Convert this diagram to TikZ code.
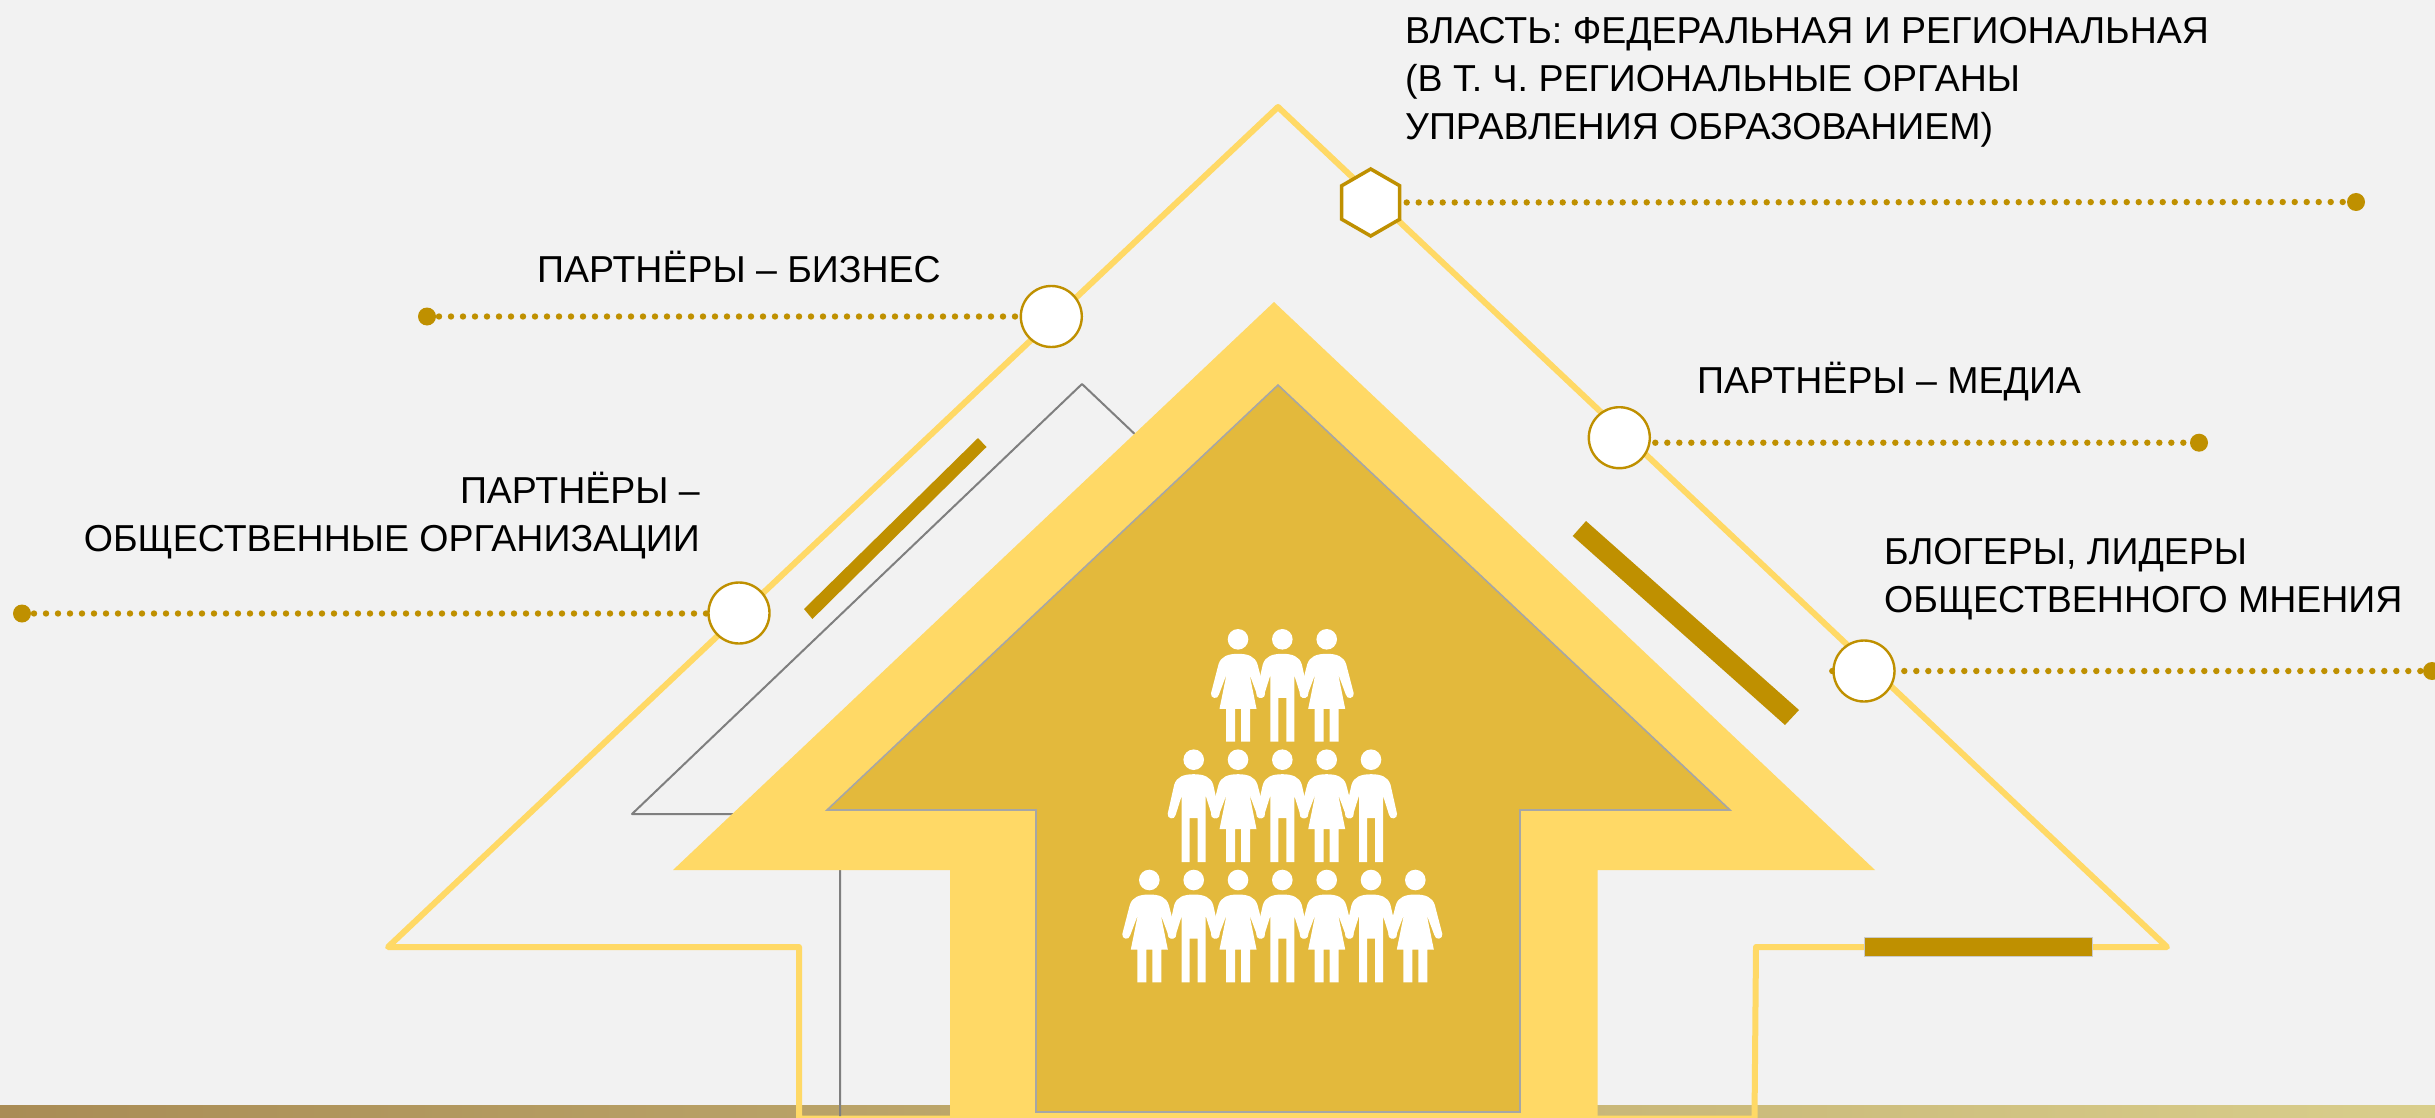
\documentclass[tikz,border=0pt]{standalone}
\usepackage{fontspec}
\setmainfont{Liberation Sans}
\usetikzlibrary{shapes.geometric}
\definecolor{pagebg}{HTML}{F2F2F2}
\definecolor{roof}{HTML}{FFD966}
\definecolor{gold}{HTML}{BF9000}
\definecolor{inner}{HTML}{E3B93C}
\definecolor{edgegray}{HTML}{A6A6A6}
\definecolor{thingray}{HTML}{7F7F7F}
\definecolor{barL}{HTML}{A98C55}
\definecolor{barR}{HTML}{D9CE8B}
\pgfdeclarelayer{base}
\pgfdeclarelayer{conn}
\pgfsetlayers{base,conn,main}
\tikzset{
  x=1pt,y=-1pt,
  hub/.style={circle,draw=gold,fill=white,line width=2.4pt,minimum size=61pt,inner sep=0pt},
  hexhub/.style={regular polygon,regular polygon sides=6,shape border rotate=30,draw=gold,fill=white,line width=3.5pt,minimum size=67pt,inner sep=0pt},
  enddot/.style={circle,fill=gold,minimum size=18pt,inner sep=0pt},
  dotline/.style={draw=gold,line width=6.4pt,line cap=round,dash pattern=on 0pt off 12pt},
  lbl/.style={font=\fontsize{37.5}{48}\selectfont,text=black,inner sep=0pt},
  woman/.pic={
    \fill[white] (0,0) circle[radius=10.3];
    \fill[white] (0,14.5) .. controls (10,14.5) and (17,17) .. (19.5,25) -- (27,54)
      .. controls (28,59) and (20,61) .. (19,55) -- (11.5,35) -- (18.5,69.5) -- (12,69.5) -- (12,102.3)
      -- (3,102.3) -- (3,69.5) -- (-3,69.5) -- (-3,102.3) -- (-12,102.3) -- (-12,69.5) -- (-18.5,69.5)
      -- (-11.5,35) -- (-19,55) .. controls (-20,61) and (-28,59) .. (-27,54) -- (-19.5,25)
      .. controls (-17,17) and (-10,14.5) .. (0,14.5) -- cycle;
  },
  man/.pic={
    \fill[white] (0,0) circle[radius=10.3];
    \fill[white] (0,14.5) .. controls (10,14.5) and (17,17) .. (19.5,25) -- (26,54)
      .. controls (27,59) and (19,61) .. (18,55) -- (12,36) -- (12,102.3)
      -- (4,102.3) -- (4,58.5) -- (-4,58.5) -- (-4,102.3) -- (-12,102.3) -- (-12,36)
      -- (-18,55) .. controls (-19,61) and (-27,59) .. (-26,54) -- (-19.5,25)
      .. controls (-17,17) and (-10,14.5) .. (0,14.5) -- cycle;
  }
}
\begin{document}
\begin{tikzpicture}
\useasboundingbox (0,0) rectangle (2435,1118);

\begin{pgfonlayer}{base}
  \fill[pagebg] (0,0) rectangle (2435,1118);
  \shade[left color=barL,right color=barR] (0,1105) rectangle (2435,1118);
  \draw[roof,line width=6pt,line join=round]
    (388,947) -- (1278,107) -- (2167,947) -- (1756,947) -- (1754.5,1118.5) -- (799,1118.5) -- (799,947) -- cycle;
  \draw[thingray,line width=2pt,line join=round]
    (1160,458) -- (1082,384) -- (632,814) -- (840,814) -- (840,1116);
  \fill[roof] (1274,302) -- (1875,870) -- (1597.5,870) -- (1597.5,1118) -- (950,1118) -- (950,870) -- (673,870) -- cycle;
  \filldraw[fill=inner,draw=edgegray,line width=1.6pt,line join=miter]
    (1278,385) -- (1730,810) -- (1520,810) -- (1520,1112) -- (1036,1112) -- (1036,810) -- (827,810) -- cycle;
  \fill[gold] (978,438) -- (986.5,447) -- (812.4,619) -- (804,609) -- cycle;
  \fill[gold] (1586,521) -- (1799,710) -- (1785,725) -- (1572.7,536) -- cycle;
  \filldraw[fill=gold,draw=edgegray!60,line width=0.8pt] (1864,937) rectangle (2092,956);
\end{pgfonlayer}

% people
\foreach \px/\kind in {1238/woman,1282.3/man,1326.7/woman}
  \pic at (\px,639.3) {\kind};
\foreach \px/\kind in {1193.7/man,1238/woman,1282.3/man,1326.7/woman,1371/man}
  \pic at (\px,759.7) {\kind};
\foreach \px/\kind in {1149.3/woman,1193.7/man,1238/woman,1282.3/man,1326.7/woman,1371/man,1415.3/woman}
  \pic at (\px,880) {\kind};

% hubs and end dots
\node[hexhub] (vlast) at (1370.7,202.5) {};
\node[enddot] (vlastEnd) at (2356,202) {};
\node[hub] (biz) at (1051.3,316.5) {};
\node[enddot] (bizEnd) at (427,316.5) {};
\node[hub] (media) at (1619.3,437.7) {};
\node[enddot] (mediaEnd) at (2199,442.7) {};
\node[hub] (org) at (739,613) {};
\node[enddot] (orgEnd) at (22,613.5) {};
\node[hub] (blog) at (1864,671) {};
\node[enddot] (blogEnd) at (2432,671) {};

\begin{pgfonlayer}{conn}
  \draw[dotline] (vlast.center) -- (vlastEnd.center);
  \draw[dotline] (bizEnd.center) -- (biz.center);
  \draw[dotline] (media.center |- mediaEnd.center) -- (mediaEnd.center);
  \draw[dotline] (orgEnd.center) -- (org.center |- orgEnd.center);
  \draw[dotline] (blog.west) -- (blogEnd.center);
\end{pgfonlayer}

% labels
\node[lbl,anchor=west,align=left] (tVlast) at (1405,82) {ВЛАСТЬ: ФЕДЕРАЛЬНАЯ И РЕГИОНАЛЬНАЯ\\(В Т. Ч. РЕГИОНАЛЬНЫЕ ОРГАНЫ\\УПРАВЛЕНИЯ ОБРАЗОВАНИЕМ)};
\node[lbl,anchor=west] (tBiz) at (537,267) {ПАРТНЁРЫ – БИЗНЕС};
\node[lbl,anchor=west] (tMedia) at (1697,381.5) {ПАРТНЁРЫ – МЕДИА};
\node[lbl,anchor=east,align=right] (tOrg) at (700,516) {ПАРТНЁРЫ –\\ОБЩЕСТВЕННЫЕ ОРГАНИЗАЦИИ};
\node[lbl,anchor=west,align=left] (tBlog) at (1884,579.6) {БЛОГЕРЫ, ЛИДЕРЫ\\ОБЩЕСТВЕННОГО МНЕНИЯ};
\end{tikzpicture}
\end{document}
